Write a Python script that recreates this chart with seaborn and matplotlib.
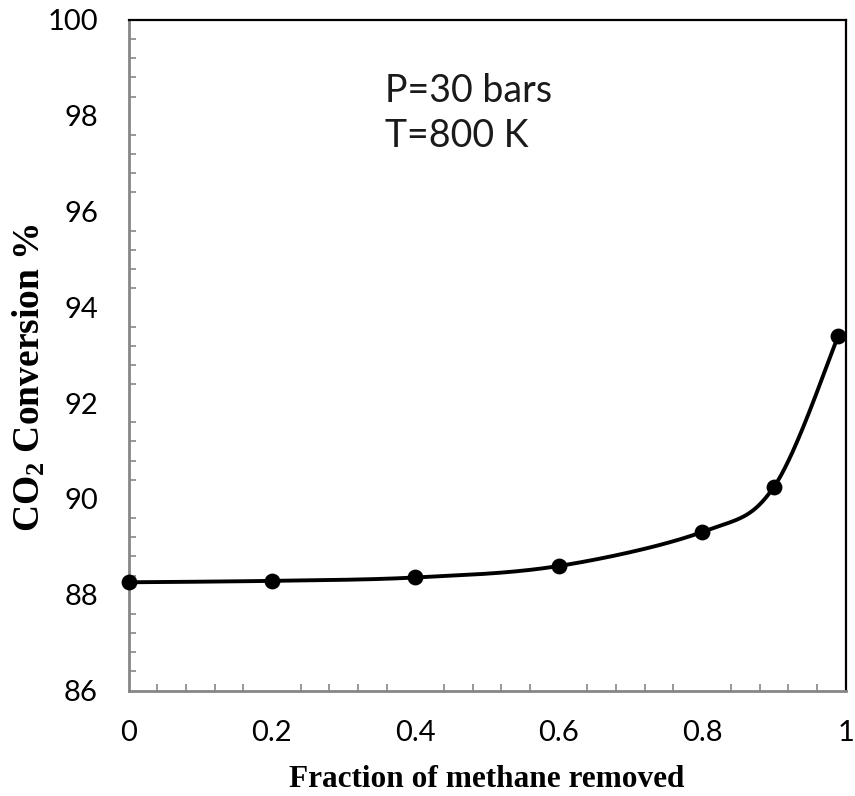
import numpy as np
import pandas as pd
import matplotlib
matplotlib.use("Agg")
import matplotlib.pyplot as plt
import seaborn as sns
from matplotlib.ticker import MultipleLocator, FixedLocator

# ---- data ----
fraction_removed = [0.0, 0.2, 0.4, 0.6, 0.8, 0.9, 0.99]
co2_conversion = [88.26, 88.29, 88.36, 88.60, 89.31, 90.25, 93.41]
x_ticks = [0, 0.2, 0.4, 0.6, 0.8, 1]
x_tick_labels = ["0", "0.2", "0.4", "0.6", "0.8", "1"]
y_ticks = [86, 88, 90, 92, 94, 96, 98, 100]
annotation_lines = ["P=30 bars", "T=800 K"]
x_label = "Fraction of methane removed"
y_label = "CO$_2$ Conversion %"

sns.set_theme(style="white")
plt.rcParams["font.family"] = ["Lato", "DejaVu Sans"]
plt.rcParams["mathtext.default"] = "regular"
plt.rcParams["text.color"] = "black"
plt.rcParams["axes.labelcolor"] = "black"

df = pd.DataFrame({"x": fraction_removed, "y": co2_conversion})


def smooth_curve(xs, ys, n=60):
    # Excel-style smoothed line (Catmull-Rom Bezier) through the data points
    P = np.column_stack([xs, ys]).astype(float)
    ext = np.vstack([P[0], P, P[-1]])
    t = np.linspace(0, 1, n)[:, None]
    segs = []
    for i in range(len(P) - 1):
        p0 = ext[i + 1]
        p3 = ext[i + 2]
        c1 = p0 + (ext[i + 2] - ext[i]) / 6.0
        c2 = p3 - (ext[i + 3] - ext[i + 1]) / 6.0
        b = ((1 - t) ** 3) * p0 + 3 * ((1 - t) ** 2) * t * c1 + 3 * (1 - t) * t ** 2 * c2 + t ** 3 * p3
        segs.append(b if i == 0 else b[1:])
    C = np.vstack(segs)
    return C[:, 0], C[:, 1]


cx, cy = smooth_curve(df["x"].values, df["y"].values)
curve = pd.DataFrame({"x": cx, "y": cy})

fig = plt.figure(figsize=(8.55, 7.96), dpi=100)
ax = fig.add_axes([0.1503, 0.1325, 0.8387, 0.8424])

sns.lineplot(data=curve, x="x", y="y", sort=False, estimator=None, color="black",
             linewidth=2.8, ax=ax, zorder=3)
sns.scatterplot(data=df, x="x", y="y", color="black", s=130, edgecolor="black",
                linewidth=0, ax=ax, zorder=4, clip_on=False)

ax.set_xlim(0, 1)
ax.set_ylim(86, 100)

ax.xaxis.set_major_locator(FixedLocator(x_ticks))
ax.set_xticklabels(x_tick_labels)
ax.xaxis.set_minor_locator(MultipleLocator(0.04))
ax.yaxis.set_major_locator(FixedLocator(y_ticks))
ax.yaxis.set_minor_locator(MultipleLocator(0.4))

gray = "#868686"
for side in ["left", "bottom"]:
    ax.spines[side].set_color(gray)
    ax.spines[side].set_linewidth(2.0)
for side in ["top", "right"]:
    ax.spines[side].set_color("black")
    ax.spines[side].set_linewidth(1.6)
    ax.spines[side].set_visible(True)

ax.tick_params(which="major", direction="inout", length=12, width=1.2, color=gray,
               labelsize=21, labelcolor="black")
ax.tick_params(axis="y", which="major", pad=16)
ax.tick_params(axis="x", which="major", pad=15.5)
ax.tick_params(which="minor", direction="in", length=5, width=1.2, color=gray)
ax.tick_params(top=False, right=False, which="both")
ax.tick_params(axis="x", which="minor", bottom=True)
ax.tick_params(axis="y", which="minor", left=True)

ax.set_xlabel(x_label, fontfamily="Liberation Serif", fontweight="bold", fontsize=22.5,
              color="black")
ax.set_ylabel(y_label, fontfamily="Liberation Serif", fontweight="bold", fontsize=27,
              color="black")
ax.xaxis.label.set_verticalalignment("baseline")
ax.yaxis.label.set_verticalalignment("baseline")
ax.xaxis.set_label_coords(0.5, -0.144)
ax.yaxis.set_label_coords(-0.1234, 0.466)

ax.text(0.358, 0.878, annotation_lines[0], transform=ax.transAxes, fontsize=27,
        va="baseline", ha="left", color="#1a1a1a")
ax.text(0.358, 0.811, annotation_lines[1], transform=ax.transAxes, fontsize=27,
        va="baseline", ha="left", color="#1a1a1a")

fig.savefig("out.png", dpi=100)
